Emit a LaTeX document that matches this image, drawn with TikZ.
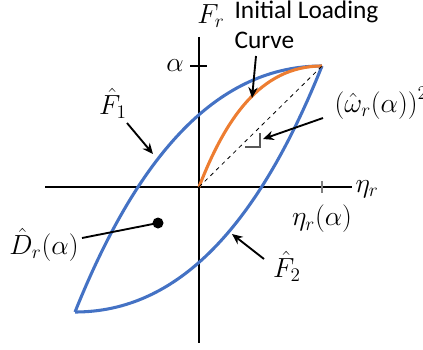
\documentclass[tikz,border=0pt]{standalone}
\usepackage{fontspec}
\newfontfamily\calibri{Carlito}
\usetikzlibrary{arrows.meta}
\definecolor{loopblue}{RGB}{68,114,196}
\definecolor{loadorange}{RGB}{237,125,49}
\tikzset{
  lbl/.style={inner sep=1pt, font=\fontsize{21}{24}\selectfont},
  pointer/.style={-{Stealth[length=8pt,width=7pt]}, line width=1.4pt},
  branch/.style={loopblue, line width=2.3pt, line join=round}
}
\begin{document}
\begin{tikzpicture}[x=0.75pt, y=-0.75pt]
\useasboundingbox (0,0) rectangle (423,349);

% axes
\coordinate (o) at (199,187);
\coordinate (tip) at (322,66);
\coordinate (low) at (75,312);
\draw[line width=0.9pt] (45,187) -- (352,187);
\draw[line width=0.9pt] (199,37) -- (199,343);
\draw[line width=0.9pt] (190,66) -- (207,66);
\draw[line width=0.9pt, gray] (322,181) -- (322,193);

% hysteresis loop and initial loading curve
\draw[branch] (low) .. controls (140,150) and (220,66) .. (tip);
\draw[branch] (low) .. controls (177,312) and (257,228) .. (tip);
\draw[loadorange, line width=2.3pt] (o) .. controls (225,120) and (260,66) .. (tip);
\draw[dashed, line width=0.6pt] (o) -- (tip);
\draw[line width=0.9pt, gray!70!black] (245,147) -- (260,147) -- (260,133);
\fill (158,223) circle (5.5) coordinate (dot);

% labels
\node[lbl] (fr) at (211,16) {$F_r$};
\node[lbl] (alpha) at (175,66) {$\alpha$};
\node[lbl] (eta) at (367,189) {$\eta_r$};
\node[lbl] (etaa) at (322,219) {$\eta_r(\alpha)$};
\node[lbl, align=left, anchor=north west, font=\calibri\fontsize{19}{23}\selectfont] (ilc) at (233,-1) {Initial Loading\\Curve};
\node[lbl, anchor=west] (omega) at (333,103) {$\left(\hat{\omega}_r(\alpha)\right)^2$};
\node[lbl] (f1) at (113,103) {$\hat{F}_1$};
\node[lbl] (f2) at (287,266) {$\hat{F}_2$};
\node[lbl] (dr) at (44,245) {$\hat{D}_r(\alpha)$};

% pointers
\coordinate (ilctip) at (252,98);
\coordinate (f1tip) at (153,154);
\coordinate (f2tip) at (232,234);
\coordinate (marktip) at (263,139);
\draw[pointer] (256,56) -- (ilctip);
\draw[pointer] (127,123) -- (f1tip);
\draw[pointer] (264,259) -- (f2tip);
\draw[pointer] (323,118) -- (marktip);
\draw[line width=1.4pt] (82,238) -- (dot);
\end{tikzpicture}
\end{document}
